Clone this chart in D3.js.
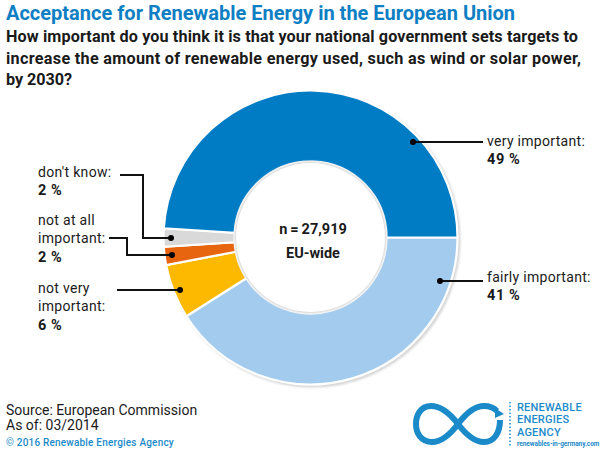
<!DOCTYPE html>
<html lang="en">
<head>
  <meta charset="UTF-8">
  <title>Acceptance for Renewable Energy in the European Union</title>
  <script src="https://d3js.org/d3.v7.min.js"></script>
  <style>
    html, body { margin: 0; background: #fff; }
    svg { display: block; }
    text { font-family: Roboto, Arial, sans-serif; fill: #1a1a1a; }
    .title { font-size: 20px; font-weight: 700; fill: #0f7fc4; }
    .question { font-size: 16.2px; font-weight: 700; }
    .label { font-size: 14px; letter-spacing: 0.3px; }
    .value { font-size: 14.5px; font-weight: 700; letter-spacing: 0.8px; }
    .center { font-size: 14.5px; font-weight: 700; }
    .source { font-size: 14px; }
    .copy { font-size: 10px; font-weight: 500; fill: #1b8ac9; letter-spacing: 0.2px; }
    .logo { font-size: 11px; font-weight: 500; fill: #1b8ac9; letter-spacing: 0.2px; }
    .logo-url { font-size: 6.4px; font-weight: 700; fill: #1b8ac9; }
    .leader { fill: none; stroke: #111; stroke-width: 2; }
  </style>
</head>
<body>
<svg id="chart" width="603" height="450"></svg>
<script>
  // data, clockwise from 3 o'clock
  const categories = ['fairly important', 'not very important', 'not at all important', "don't know", 'very important'];
  const shares = [41, 6, 2, 2, 49];
  const colors = ['#a2cbee', '#fdb900', '#e8650f', '#d9d9d9', '#007cc5'];

  const titleText = 'Acceptance for Renewable Energy in the European Union';
  const questionLines = [
    'How important do you think it is that your national government sets targets to',
    'increase the amount of renewable energy used, such as wind or solar power,',
    'by 2030?'
  ];
  const questionWidths = [572, 575, 66];
  const centerLines = ['n\u2009=\u200927,919', 'EU-wide'];
  const sourceLines = ['Source: European Commission', 'As of: 03/2014'];
  const copyText = '© 2016 Renewable Energies Agency';
  const logoLines = ['RENEWABLE', 'ENERGIES', 'AGENCY'];
  const logoUrl = 'renewables-in-germany.com';

  // callout layout, same order as categories
  const labelLines = [['fairly important:'], ['not very', 'important:'], ['not at all', 'important:'], ["don't know:"], ['very important:']];
  const labelPos = [[487, 282], [38, 293], [38, 225], [38, 177], [487, 146]];
  const leaders = [
    [[440, 281], [483, 281]],
    [[117, 290], [180, 290]],
    [[109, 238], [127, 238], [127, 255], [172, 255]],
    [[120, 175], [143, 175], [143, 238], [171, 238]],
    [[413, 142], [483, 142]]
  ];

  const svg = d3.select('#chart');
  const cx = 310.5, cy = 237.5, outer = 147, inner = 76;

  const defs = svg.append('defs');
  const blur = defs.append('filter').attr('id', 'soft').attr('x', '-10%').attr('y', '-10%').attr('width', '120%').attr('height', '120%');
  blur.append('feGaussianBlur').attr('stdDeviation', 1.2);

  svg.append('text').attr('class', 'title').attr('x', 6).attr('y', 20).text(titleText);
  svg.append('g').selectAll('text').data(questionLines).join('text')
    .attr('class', 'question').attr('x', 6).attr('y', (d, i) => 42 + i * 21.5)
    .attr('textLength', (d, i) => questionWidths[i]).text(d => d);

  const pie = d3.pie().value(d => d).sort(null).startAngle(Math.PI / 2).endAngle(Math.PI * 2.5);
  const arc = d3.arc().innerRadius(inner).outerRadius(outer);

  // soft grey edge round the ring and hole
  const donut = svg.append('g').attr('transform', `translate(${cx},${cy})`);
  donut.append('circle').attr('cx', 2).attr('cy', 2).attr('r', outer + 1)
    .attr('fill', '#d6d6d6').attr('filter', 'url(#soft)');
  donut.selectAll('path').data(pie(shares)).join('path')
    .attr('d', arc).attr('fill', (d, i) => colors[i])
    .attr('stroke', '#fff').attr('stroke-width', 2.2);
  donut.append('circle').attr('r', inner).attr('fill', '#dcdcdc').attr('filter', 'url(#soft)');
  donut.append('circle').attr('r', inner - 1.5).attr('fill', '#fff');

  svg.append('g').selectAll('text').data(centerLines).join('text')
    .attr('class', 'center').attr('x', 313).attr('y', (d, i) => 234 + i * 24)
    .attr('text-anchor', 'middle').text(d => d);

  // leaders
  const line = d3.line();
  const lg = svg.append('g');
  lg.selectAll('path').data(leaders).join('path').attr('class', 'leader').attr('d', line);
  lg.selectAll('circle').data(leaders).join('circle')
    .attr('cx', d => d[0][0] > 300 ? d[0][0] : d[d.length - 1][0])
    .attr('cy', d => d[0][0] > 300 ? d[0][1] : d[d.length - 1][1])
    .attr('r', 3).attr('fill', '#000');

  // labels
  categories.forEach((c, i) => {
    const [x, y] = labelPos[i];
    const g = svg.append('g');
    labelLines[i].forEach((t, j) => {
      g.append('text').attr('class', 'label').attr('x', x).attr('y', y + j * 18.3).text(t);
    });
    g.append('text').attr('class', 'value').attr('x', x)
      .attr('y', y + labelLines[i].length * 18.3).text(shares[i] + '\u2009%');
  });

  // footer
  svg.append('g').selectAll('text').data(sourceLines).join('text')
    .attr('class', 'source').attr('x', 6).attr('y', (d, i) => 415 + i * 15).text(d => d);
  svg.append('text').attr('class', 'copy').attr('x', 6).attr('y', 446).text(copyText);

  // logo
  const logo = svg.append('g');
  logo.append('path')
    .attr('d', 'M458,424 C448,411 440,406 431,406 C420,406 416,416 416,424 C416,433 421,442 432,442 C441,442 449,436 458,424 C467,412 475,406 484,406 C490,406 494,408 497,411 M458,424 C467,436 475,442 484,442 C494,442 500,433 500,420')
    .attr('fill', 'none').attr('stroke', '#1b8ac9').attr('stroke-width', 6);
  logo.append('path').attr('d', d3.line()([[495, 408], [504, 414], [495, 418]]) + 'Z').attr('fill', '#1b8ac9');
  logo.append('line').attr('x1', 510).attr('x2', 510).attr('y1', 402).attr('y2', 446)
    .attr('stroke', '#1b8ac9').attr('stroke-width', 1.5).attr('stroke-dasharray', '1.5 2');
  logo.selectAll('text.l').data(logoLines).join('text').attr('class', 'logo l')
    .attr('x', 517).attr('y', (d, i) => 410.5 + i * 12.9).text(d => d);
  logo.append('text').attr('class', 'logo-url').attr('x', 517).attr('y', 446).text(logoUrl);
</script>
</body>
</html>
